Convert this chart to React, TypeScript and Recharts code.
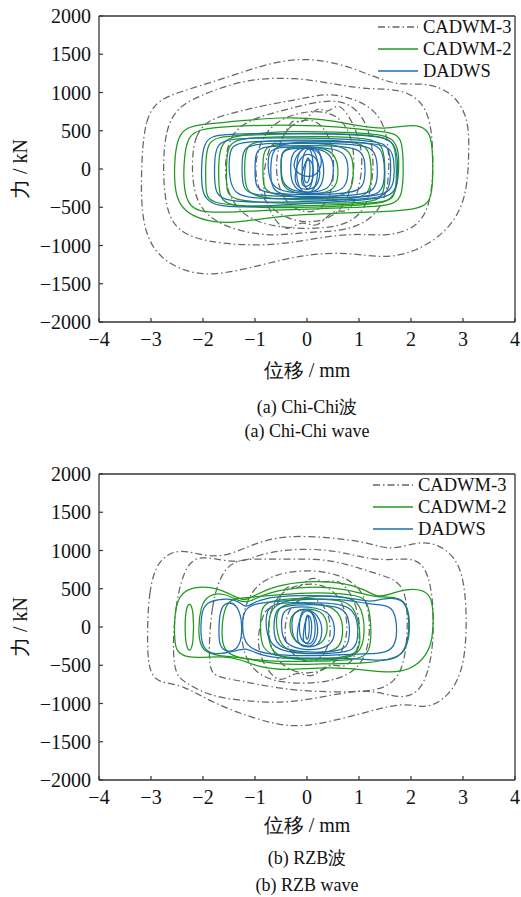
import { LineChart, Line, XAxis, YAxis, ReferenceLine } from "recharts";

type Pt = [number, number];

// Chi-Chi wave loops (displacement mm, force kN)
const chiChiCadwm3: Pt[][] = [
  [[-3.18, 200], [-3.1, 650], [-2.9, 880], [-2.5, 1000], [-1.6, 1180], [-0.6, 1420], [0.2, 1450], [1.0, 1300], [1.7, 1080], [2.3, 1140], [2.85, 980], [3.1, 650], [3.12, 300], [3.08, -400], [2.7, -820], [2.1, -1080], [1.5, -1170], [0.8, -1090], [0.0, -1110], [-0.8, -1240], [-1.8, -1410], [-2.5, -1320], [-3.0, -1050], [-3.2, -600]],
  [[-2.78, 0], [-2.72, 520], [-2.5, 800], [-2.1, 950], [-1.2, 1180], [-0.2, 1200], [0.6, 1100], [1.2, 1040], [1.8, 1050], [2.25, 880], [2.42, 500], [2.43, -200], [2.3, -600], [2.0, -800], [1.5, -880], [0.9, -840], [0.2, -900], [-0.6, -1000], [-1.5, -990], [-2.3, -900], [-2.7, -650]],
  [[-2.22, 100], [-2.15, 450], [-1.9, 640], [-1.5, 720], [-0.8, 840], [-0.2, 900], [0.4, 1000], [0.9, 920], [1.3, 780], [1.55, 500], [1.6, -100], [1.45, -500], [1.1, -720], [0.6, -820], [0.0, -820], [-0.6, -880], [-1.3, -820], [-1.9, -650], [-2.18, -350]],
  [[-1.6, 0], [-1.5, 450], [-1.1, 650], [-0.5, 760], [0.0, 850], [0.6, 920], [1.05, 760], [1.3, 300], [1.25, -350], [0.95, -680], [0.4, -780], [-0.4, -780], [-1.1, -680], [-1.5, -400]],
  [[-0.9, -200], [-0.7, 400], [-0.5, 300], [-0.3, 700], [-0.1, 550], [0.2, 850], [0.4, 700], [0.6, 900], [0.9, 600], [1.1, 200], [1.0, -300], [0.8, -600], [0.5, -500], [0.2, -800], [-0.1, -650], [-0.4, -850], [-0.7, -600]],
  [[-1.05, 0], [-0.85, 480], [-0.4, 700], [0.2, 780], [0.7, 680], [0.95, 250], [0.85, -400], [0.4, -700], [-0.3, -700], [-0.85, -450]],
  [[-0.65, 100], [-0.4, 600], [0.2, 700], [0.55, 300], [0.5, -450], [0.0, -620], [-0.5, -420]],
];

const chiChiCadwm2: Pt[][] = [
  [[-2.55, -250], [-2.55, 100], [-2.5, 380], [-2.35, 540], [-2.0, 590], [-1.4, 620], [-0.5, 680], [0.3, 660], [1.0, 560], [1.5, 520], [1.9, 570], [2.2, 570], [2.38, 460], [2.42, 200], [2.42, -250], [2.35, -450], [2.1, -530], [1.5, -560], [0.5, -580], [-0.5, -610], [-1.3, -700], [-1.8, -700], [-2.2, -620], [-2.45, -480]],
  [[-2.38, -200], [-2.36, 200], [-2.28, 420], [-2.1, 520], [-1.5, 560], [-0.5, 580], [0.5, 560], [1.3, 500], [1.7, 470], [1.83, 380], [1.86, 0], [1.83, -350], [1.7, -460], [1.2, -500], [0.2, -520], [-0.8, -540], [-1.6, -570], [-2.1, -560], [-2.3, -450]],
  [[-1.95, -250], [-1.95, 150], [-1.9, 330], [-1.75, 420], [-1.2, 440], [-0.2, 470], [0.8, 460], [1.45, 430], [1.68, 350], [1.72, 100], [1.72, -250], [1.65, -400], [1.4, -440], [0.5, -470], [-0.5, -490], [-1.4, -480], [-1.8, -440], [-1.92, -370]],
  [[-1.7, -150], [-1.7, 200], [-1.6, 380], [-1.3, 450], [-0.3, 500], [0.8, 480], [1.5, 450], [1.75, 350], [1.78, 0], [1.7, -380], [1.4, -460], [0.3, -500], [-0.8, -510], [-1.5, -480], [-1.68, -380]],
  [[-1.55, -200], [-1.55, 150], [-1.5, 320], [-1.3, 400], [-0.6, 420], [0.4, 430], [1.2, 400], [1.45, 330], [1.5, 100], [1.5, -250], [1.42, -400], [1.1, -440], [0.1, -450], [-0.9, -440], [-1.4, -400], [-1.53, -320]],
  [[-1.2, -150], [-1.2, 150], [-1.15, 300], [-1.0, 360], [-0.3, 380], [0.6, 380], [1.1, 330], [1.22, 200], [1.25, -150], [1.18, -330], [0.9, -400], [-0.1, -410], [-0.9, -380], [-1.15, -300]],
  [[-0.85, -100], [-0.85, 150], [-0.8, 280], [-0.6, 330], [0.0, 340], [0.6, 320], [0.88, 220], [0.9, -100], [0.85, -290], [0.6, -370], [-0.1, -380], [-0.7, -330], [-0.83, -250]],
  [[-0.5, 0], [-0.5, 200], [-0.4, 280], [0.0, 300], [0.45, 260], [0.6, 100], [0.6, -150], [0.5, -300], [0.0, -340], [-0.4, -290], [-0.5, -150]],
];

const chiChiDadws: Pt[][] = [
  [[-2.03, -250], [-2.03, 100], [-1.98, 330], [-1.85, 430], [-1.5, 460], [-0.5, 465], [0.6, 460], [1.4, 430], [1.65, 360], [1.74, 200], [1.75, -100], [1.7, -300], [1.5, -380], [0.8, -420], [-0.2, -460], [-1.2, -500], [-1.7, -490], [-1.95, -400]],
  [[-1.78, -150], [-1.78, 150], [-1.72, 330], [-1.5, 400], [-0.5, 410], [0.6, 400], [1.4, 360], [1.6, 280], [1.62, -100], [1.55, -330], [1.3, -390], [0.2, -420], [-0.9, -440], [-1.55, -420], [-1.75, -330]],
  [[-1.5, -100], [-1.5, 150], [-1.45, 300], [-1.25, 360], [-0.3, 370], [0.8, 360], [1.35, 330], [1.48, 200], [1.5, -150], [1.42, -320], [1.1, -370], [0.0, -390], [-1.0, -390], [-1.4, -340]],
  [[-1.25, -100], [-1.25, 150], [-1.2, 280], [-1.0, 330], [-0.2, 340], [0.8, 330], [1.25, 290], [1.35, 150], [1.36, -150], [1.28, -300], [0.9, -350], [-0.1, -360], [-1.0, -350], [-1.22, -280]],
  [[-0.7, -150], [-0.7, 150], [-0.6, 300], [-0.3, 350], [0.5, 360], [1.3, 340], [1.62, 280], [1.68, 100], [1.68, -150], [1.6, -300], [1.3, -360], [0.4, -380], [-0.4, -360], [-0.65, -280]],
  [[-1.0, -100], [-1.0, 150], [-0.95, 260], [-0.75, 300], [0.0, 310], [0.7, 300], [1.05, 250], [1.12, 100], [1.12, -150], [1.02, -290], [0.6, -330], [-0.2, -340], [-0.85, -310], [-0.98, -230]],
  [[-0.75, -50], [-0.75, 150], [-0.7, 250], [-0.5, 290], [0.0, 290], [0.55, 270], [0.78, 180], [0.8, -100], [0.72, -270], [0.4, -320], [-0.2, -320], [-0.65, -270]],
  [[-0.5, 0], [-0.5, 180], [-0.42, 260], [-0.1, 280], [0.3, 260], [0.5, 160], [0.52, -100], [0.42, -270], [0.1, -310], [-0.3, -290], [-0.48, -180]],
  [[-0.32, 0], [-0.3, 200], [-0.15, 280], [0.15, 270], [0.32, 150], [0.33, -150], [0.2, -300], [-0.1, -320], [-0.3, -200]],
  [[-0.2, 0], [-0.18, 220], [0.0, 300], [0.2, 220], [0.22, -100], [0.12, -320], [-0.1, -320], [-0.2, -150]],
  [[-0.1, 0], [-0.08, 200], [0.05, 300], [0.12, 150], [0.12, -150], [0.03, -300], [-0.08, -200]],
  [[-0.25, -100], [-0.15, 150], [0.05, 220], [0.25, 100], [0.25, -200], [0.05, -280], [-0.2, -250]],
  [[-0.12, -150], [-0.05, 100], [0.08, 150], [0.14, -50], [0.08, -220], [-0.08, -240]],
  [[-0.05, -50], [0.0, 180], [0.06, 120], [0.06, -120], [0.0, -200], [-0.06, -150]],
  [[-0.28, 80], [-0.1, 280], [0.15, 300], [0.3, 180], [0.25, -60], [0.0, -120], [-0.22, -40]],
];

// RZB wave loops
const rzbCadwm3: Pt[][] = [
  [[-3.08, -300], [-3.05, 500], [-2.85, 900], [-2.45, 1020], [-2.1, 950], [-1.6, 900], [-1.0, 1100], [-0.4, 1200], [0.5, 1170], [1.2, 1100], [1.6, 1000], [2.1, 1110], [2.5, 1100], [2.95, 870], [3.08, 300], [3.05, -500], [2.75, -900], [2.3, -1080], [1.9, -980], [1.2, -1100], [0.4, -1250], [-0.3, -1320], [-1.0, -1200], [-1.8, -1000], [-2.4, -750], [-2.85, -730], [-3.02, -600]],
  [[-2.6, -600], [-2.55, 300], [-2.3, 900], [-1.9, 920], [-1.3, 820], [-0.9, 960], [-0.2, 1030], [0.6, 1000], [1.2, 880], [1.7, 880], [2.0, 900], [2.3, 800], [2.45, 300], [2.42, -400], [2.2, -850], [1.8, -950], [1.2, -800], [0.4, -900], [-0.4, -1000], [-1.2, -970], [-1.9, -900], [-2.35, -720]],
  [[-1.9, -500], [-1.85, 300], [-1.6, 800], [-1.2, 900], [-0.6, 880], [0.2, 900], [0.8, 820], [1.3, 700], [1.85, 600], [1.95, 200], [1.9, -500], [1.6, -800], [1.0, -850], [0.2, -850], [-0.6, -800], [-1.3, -700], [-1.8, -650]],
  [[-1.3, 0], [-1.1, 500], [-0.6, 700], [0.0, 750], [0.6, 700], [1.1, 500], [1.25, 0], [1.1, -500], [0.6, -700], [-0.1, -750], [-0.8, -700], [-1.2, -450]],
  [[-1.0, -200], [-0.8, 300], [-0.6, 200], [-0.4, 600], [-0.2, 450], [0.1, 700], [0.3, 550], [0.6, 650], [0.9, 400], [1.05, 0], [0.95, -400], [0.7, -550], [0.4, -450], [0.1, -700], [-0.2, -550], [-0.5, -750], [-0.8, -550]],
  [[-0.8, 0], [-0.6, 450], [0.0, 600], [0.6, 500], [0.85, 0], [0.6, -500], [0.0, -650], [-0.6, -500]],
  [[-0.45, 0], [-0.3, 350], [0.2, 420], [0.5, 100], [0.4, -380], [0.0, -500], [-0.4, -300]],
];

const rzbCadwm2: Pt[][] = [
  [[-2.55, -200], [-2.55, 150], [-2.48, 380], [-2.3, 500], [-2.0, 530], [-1.7, 500], [-1.45, 420], [-1.2, 330], [-1.0, 420], [-0.6, 540], [0.0, 600], [0.6, 590], [1.1, 500], [1.35, 380], [1.6, 430], [1.9, 500], [2.25, 490], [2.4, 380], [2.43, 150], [2.42, -150], [2.3, -380], [2.0, -560], [1.6, -600], [1.1, -560], [0.4, -520], [-0.4, -570], [-0.9, -530], [-1.3, -420], [-1.6, -380], [-2.0, -400], [-2.3, -400], [-2.5, -330]],
  [[-2.35, 0], [-2.33, 250], [-2.25, 330], [-2.18, 200], [-2.18, -200], [-2.25, -340], [-2.33, -250]],
  [[-2.1, -100], [-2.05, 280], [-1.9, 420], [-1.6, 450], [-1.3, 330], [-1.1, 320], [-0.8, 450], [0.0, 540], [0.8, 500], [1.3, 380], [1.7, 400], [1.92, 330], [2.0, 0], [1.9, -330], [1.7, -400], [1.2, -480], [0.3, -480], [-0.6, -500], [-1.2, -400], [-1.7, -380], [-2.02, -320]],
  [[-1.65, -100], [-1.6, 250], [-1.45, 370], [-1.2, 380], [-0.6, 420], [0.2, 460], [1.0, 420], [1.2, 330], [1.25, -200], [1.15, -380], [0.9, -430], [0.2, -450], [-0.8, -450], [-1.4, -400], [-1.6, -300]],
  [[-0.9, 0], [-0.88, 250], [-0.75, 340], [-0.2, 380], [0.6, 360], [0.95, 280], [1.05, -200], [0.95, -360], [0.6, -410], [0.0, -420], [-0.7, -380], [-0.88, -250]],
  [[-0.6, 0], [-0.58, 220], [-0.45, 300], [0.0, 320], [0.5, 280], [0.7, 100], [0.68, -200], [0.55, -320], [0.0, -360], [-0.5, -300]],
  [[-0.35, 0], [-0.3, 200], [0.1, 260], [0.4, 150], [0.4, -150], [0.15, -280], [-0.25, -220]],
  [[-0.75, -50], [-0.72, 200], [-0.55, 330], [0.2, 420], [0.8, 400], [1.08, 280], [1.12, -200], [0.95, -400], [0.3, -440], [-0.5, -420], [-0.72, -280]],
];

const rzbDadws: Pt[][] = [
  [[-2.05, -100], [-2.03, 230], [-1.9, 340], [-1.5, 380], [-1.3, 330], [-1.17, 240], [-1.0, 340], [-0.6, 400], [0.0, 420], [0.9, 380], [1.2, 320], [1.45, 370], [1.75, 380], [1.92, 300], [1.98, 0], [1.9, -300], [1.7, -420], [1.4, -440], [1.1, -420], [0.3, -400], [-0.6, -420], [-1.0, -340], [-1.17, -270], [-1.4, -320], [-1.8, -370], [-2.0, -280]],
  [[-1.7, -100], [-1.68, 230], [-1.55, 330], [-1.35, 300], [-1.25, 100], [-1.25, -150], [-1.35, -300], [-1.55, -330], [-1.68, -250]],
  [[-1.25, 0], [-1.22, 230], [-1.0, 310], [-0.6, 330], [0.0, 370], [0.8, 360], [1.15, 300], [1.45, 290], [1.68, 260], [1.75, -100], [1.65, -300], [1.4, -350], [1.0, -350], [0.2, -380], [-0.8, -370], [-1.2, -250]],
  [[-0.8, 0], [-0.78, 230], [-0.6, 310], [-0.3, 320], [0.4, 320], [0.95, 270], [1.0, -150], [0.9, -310], [0.6, -340], [0.0, -360], [-0.7, -300]],
  [[-0.65, -100], [-0.62, 200], [-0.5, 280], [0.2, 300], [0.7, 260], [0.82, 100], [0.82, -200], [0.7, -320], [0.0, -340], [-0.55, -280]],
  [[-0.5, 0], [-0.48, 200], [-0.3, 270], [0.2, 260], [0.5, 160], [0.55, -100], [0.45, -260], [0.0, -320], [-0.45, -230]],
  [[-0.3, 0], [-0.28, 200], [0.0, 260], [0.28, 120], [0.3, -150], [0.15, -290], [-0.25, -220]],
  [[-0.15, 50], [-0.1, 250], [0.12, 220], [0.18, -50], [0.1, -260], [-0.15, -180]],
  [[-0.2, -80], [-0.12, 180], [0.05, 240], [0.22, 80], [0.2, -200], [0.0, -280], [-0.18, -220]],
  [[-0.08, -120], [-0.02, 150], [0.08, 160], [0.1, -80], [0.03, -230], [-0.07, -200]],
  [[-0.04, 0], [0.0, 200], [0.05, 100], [0.04, -150], [-0.02, -180]],
];

const xTicks = [-4, -3, -2, -1, 0, 1, 2, 3, 4];
const yTicks = [-2000, -1500, -1000, -500, 0, 500, 1000, 1500, 2000];
const seriesNames = ["CADWM-3", "CADWM-2", "DADWS"];

const GRAY = "#666666";
const GREEN = "#1e9a1e";
const BLUE = "#1f6db0";
const AXIS = "#3a3333";
const FONT = "Liberation Serif, Tinos, DejaVu Serif, serif";
const DASH = "7 3 1.5 3";

const fmt = (v: number) => (v < 0 ? "\u2212" + Math.abs(v) : String(v));

function XTick(props: any) {
  const { x, y, payload } = props;
  return (
    <g>
      <line x1={x} x2={x} y1={y} y2={y - 4} stroke={AXIS} strokeWidth={1.2} />
      <text x={x} y={y + 24} textAnchor="middle" fontSize={20} fontFamily={FONT} fill="#111">
        {fmt(payload.value)}
      </text>
    </g>
  );
}

function YTick(props: any) {
  const { x, y, payload } = props;
  return (
    <g>
      <line x1={x} x2={x + 4} y1={y} y2={y} stroke={AXIS} strokeWidth={1.2} />
      <text x={x - 8} y={y + 7} textAnchor="end" fontSize={20} fontFamily={FONT} fill="#111">
        {fmt(payload.value)}
      </text>
    </g>
  );
}

function Panel({ top, gray, green, blue, caption1, caption2, capY, legendX }: {
  top: number; gray: Pt[][]; green: Pt[][]; blue: Pt[][]; caption1: string; caption2: string;
  capY: [number, number, number]; legendX: number;
}) {
  const toData = (loop: Pt[]) => loop.map(([x, y]) => ({ x, y }));
  const lines = [
    ...gray.map((l, i) => ({ key: `g${i}`, data: toData(l), color: GRAY, dash: DASH })),
    ...green.map((l, i) => ({ key: `c${i}`, data: toData(l), color: GREEN, dash: undefined })),
    ...blue.map((l, i) => ({ key: `b${i}`, data: toData(l), color: BLUE, dash: undefined })),
  ];
  const legendColors = [GRAY, GREEN, BLUE];
  const text = (x: number, y: number, s: string, size: number, rotate = false) => (
    <div
      style={{
        position: "absolute", left: x, top: y, fontSize: size, fontFamily: FONT, color: "#111",
        whiteSpace: "nowrap", lineHeight: 1, transform: `translate(-50%, -50%)${rotate ? " rotate(-90deg)" : ""}`,
      }}
    >
      {s}
    </div>
  );
  return (
    <div style={{ position: "absolute", left: 0, top, width: 521, height: 450 }}>
      <LineChart width={521} height={352} margin={{ top: 16, right: 6, left: 0, bottom: 0 }}>
        <XAxis
          type="number"
          dataKey="x"
          domain={[-4, 4]}
          ticks={xTicks}
          allowDataOverflow
          height={30}
          tickSize={0}
          tickMargin={0}
          tick={<XTick />}
          axisLine={{ stroke: AXIS, strokeWidth: 1.3 }}
        />
        <YAxis
          type="number"
          dataKey="y"
          domain={[-2000, 2000]}
          ticks={yTicks}
          allowDataOverflow
          width={99}
          tickSize={0}
          tickMargin={0}
          tick={<YTick />}
          axisLine={{ stroke: AXIS, strokeWidth: 1.3 }}
        />
        <ReferenceLine x={4} stroke={AXIS} strokeWidth={1.3} />
        <ReferenceLine y={2000} stroke={AXIS} strokeWidth={1.3} />
        {lines.map((l) => (
          <Line
            key={l.key}
            data={l.data}
            dataKey="y"
            type="basisClosed"
            stroke={l.color}
            strokeWidth={1.25}
            strokeDasharray={l.dash}
            dot={false}
            activeDot={false}
            isAnimationActive={false}
          />
        ))}
      </LineChart>
      <svg style={{ position: "absolute", left: 0, top: 0 }} width={521} height={100}>
        {seriesNames.map((name, i) => (
          <g key={name}>
            <line
              x1={legendX} x2={legendX + 40} y1={27 + i * 22} y2={27 + i * 22}
              stroke={legendColors[i]} strokeWidth={1.3} strokeDasharray={i === 0 ? DASH : undefined}
            />
            <text x={legendX + 45} y={27 + i * 22 + 6} fontSize={18.5} fontFamily={FONT} fill="#111">{name}</text>
          </g>
        ))}
      </svg>
      {text(307, capY[0], "位移 / mm", 20)}
      {text(20, 169, "力 / kN", 20, true)}
      {text(307, capY[1], caption1, 18)}
      {text(307, capY[2], caption2, 18)}
    </div>
  );
}

export default function App() {
  return (
    <div style={{ position: "relative", width: 521, height: 897, background: "#fff" }}>
      <style>{"body{margin:0}"}</style>
      <Panel top={0} gray={chiChiCadwm3} green={chiChiCadwm2} blue={chiChiDadws} caption1="(a) Chi-Chi波" caption2="(a) Chi-Chi wave" capY={[370, 407, 431]} legendX={378} />
      <Panel top={458} gray={rzbCadwm3} green={rzbCadwm2} blue={rzbDadws} caption1="(b) RZB波" caption2="(b) RZB wave" capY={[367, 400, 427]} legendX={373} />
    </div>
  );
}
